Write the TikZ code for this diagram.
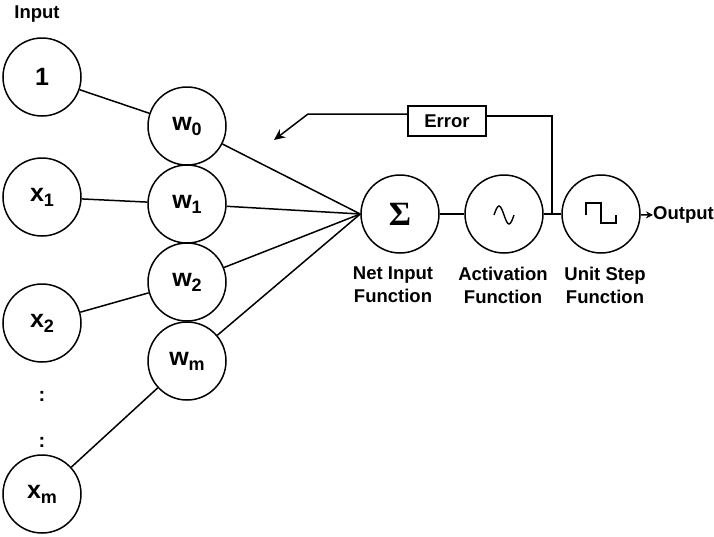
\documentclass[tikz,border=0pt]{standalone}
\usepackage{fontspec}
\setmainfont{Liberation Sans}
\newfontfamily\serifbold{Liberation Serif}[BoldFont={Liberation Serif Bold}]
\usetikzlibrary{arrows.meta}

% subscript set a little below the baseline
\newcommand{\lowidx}[1]{\raisebox{-5pt}{\fontsize{18}{18}\selectfont #1}}

\tikzset{
  neuron/.style={circle, draw, line width=1.5pt, minimum size=78pt, inner sep=0pt,
                 font=\fontsize{25}{27}\selectfont\bfseries},
  wire/.style={line width=1.5pt},
  caption/.style={font=\fontsize{18.5}{23}\selectfont\bfseries, align=center, inner sep=0pt},
  errbox/.style={draw, line width=1.5pt, minimum width=78pt, minimum height=30pt,
                 inner sep=0pt, font=\fontsize{18.5}{20}\selectfont\bfseries},
}

\begin{document}
\begin{tikzpicture}[x=1pt, y=-1pt]
  \useasboundingbox (0,0) rectangle (714,536);

  % input column
  \node[caption, anchor=base] (inlabel) at (37,18) {Input};
  \node[neuron] (in0) at (42,77)  {1};
  \node[neuron] (in1) at (42,197) {x\lowidx{1}};
  \node[neuron] (in2) at (42,323) {x\lowidx{2}};
  \node[neuron] (inm) at (42,494) {x\lowidx{m}};
  \node[font=\fontsize{20}{20}\selectfont\bfseries, inner sep=0pt] (dot1) at (42,396) {:};
  \node[font=\fontsize{20}{20}\selectfont\bfseries, inner sep=0pt] (dot2) at (42,442) {:};

  % weight column
  \node[neuron] (w0) at (187,126) {w\lowidx{0}};
  \node[neuron] (w1) at (187,204) {w\lowidx{1}};
  \node[neuron] (w2) at (187,282) {w\lowidx{2}};
  \node[neuron] (wm) at (187,361) {w\lowidx{m}};

  % processing chain
  \node[neuron] (sum)  at (400,214) {\serifbold\bfseries\fontsize{34}{34}\selectfont Σ};
  \node[neuron] (act)  at (504,214) {};
  \node[neuron] (step) at (601,214) {};
  \coordinate (junc) at (552,214);

  % sine wave of the activation node
  \draw[line width=1.4pt] (494,215) sin (499,206) cos (504,215) sin (509,224) cos (514,215);
  % square wave of the unit step node
  \draw[line width=1.5pt] (586,215) -- (586,203) -- (601,203) -- (601,223) -- (616,223) -- (616,215);

  % captions
  \node[caption, anchor=north] (capsum)  at (393,267) {Net Input\\Function};
  \node[caption, anchor=north] (capact)  at (503,267) {Activation\\Function};
  \node[caption, anchor=north] (capstep) at (605,267) {Unit Step\\Function};

  % output
  \node[caption, anchor=west] (out) at (653,215) {Output};
  \draw[wire, -{Stealth[length=7pt, width=7pt]}] (step) -- (out.west);

  % inputs to weights
  \draw[wire] (in0) -- (w0);
  \draw[wire] (in1) -- (w1);
  \draw[wire] (in2) -- (w2);
  \draw[wire] (inm) -- (wm);

  % weights to summation
  \foreach \w in {w0,w1,w2,wm}
    \draw[wire] (\w) -- (sum.west);

  \draw[wire] (sum) -- (act);
  \draw[wire] (act) -- (junc) -- (step);

  % error feedback
  \node[errbox] (err) at (447,121) {Error};
  \coordinate (ej) at (552,116);
  \coordinate (bend) at (308,114);
  \coordinate (tip) at (274,140);
  \draw[wire] (junc) -- (ej) -- (ej -| err.east);
  \draw[wire, -{Stealth[length=11pt, width=10pt]}] (err.west |- bend) -- (bend) -- (tip);
\end{tikzpicture}
\end{document}
